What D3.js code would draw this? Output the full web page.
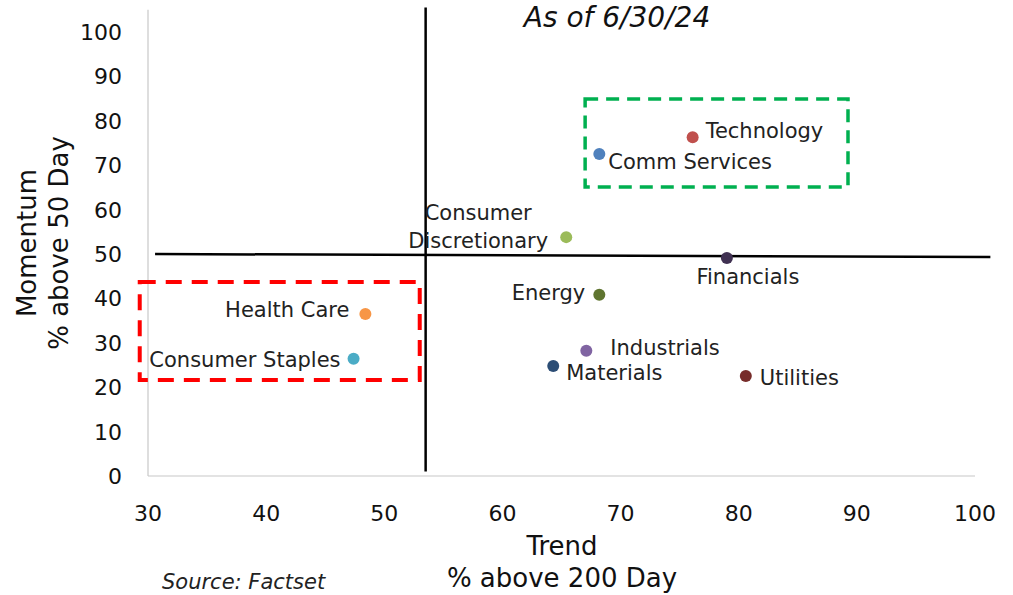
<!DOCTYPE html>
<html>
<head>
<meta charset="utf-8">
<script src="https://cdn.jsdelivr.net/npm/d3@7"></script>
<style>
  body { margin: 0; background: #fff; }
  svg { font-family: "DejaVu Sans", sans-serif; }
</style>
</head>
<body>
<div id="chart"></div>
<script>
// sector data
const sectors = ["Technology", "Comm Services", "Consumer Discretionary", "Financials", "Energy",
                 "Industrials", "Materials", "Utilities", "Health Care", "Consumer Staples"];
const trend = [76.1, 68.2, 65.4, 79.0, 68.2, 67.1, 64.3, 80.6, 48.4, 47.4];      // % above 200 day
const momentum = [76.3, 72.5, 53.8, 49.1, 40.8, 28.2, 24.8, 22.5, 36.5, 26.4];  // % above 50 day
const colors = ["#c0504d", "#4f81bd", "#9bbb59", "#403152", "#5f7530",
                "#8064a2", "#2c4d75", "#772c2a", "#f79646", "#4bacc6"];

const xTicks = [30, 40, 50, 60, 70, 80, 90, 100];
const yTicks = [0, 10, 20, 30, 40, 50, 60, 70, 80, 90, 100];

// quadrant divider lines (data units)
const vLine = { x: 53.5, y0: 105.5, y1: 1 };
const hLine = { x0: 30.6, y0: 50.0, x1: 101.3, y1: 49.3 };

// highlight boxes (data units)
const leaders = { x0: 67.0, x1: 89.25, y0: 65.1, y1: 84.9 };
const laggards = { x0: 29.3, x1: 53.0, y0: 21.6, y1: 43.7 };

const width = 1013, height = 595;
const svg = d3.select("#chart").append("svg")
    .attr("width", width)
    .attr("height", height);

const x = d3.scaleLinear().domain([30, 100]).range([148, 975]);
const y = d3.scaleLinear().domain([0, 100]).range([476, 32]);

// axis frame (grey)
svg.append("line")
    .attr("x1", x(30)).attr("x2", x(30))
    .attr("y1", y(0)).attr("y2", y(105))
    .attr("stroke", "#c8c8c8").attr("stroke-width", 1.2);
svg.append("line")
    .attr("x1", x(30)).attr("x2", x(100))
    .attr("y1", y(0)).attr("y2", y(0))
    .attr("stroke", "#c8c8c8").attr("stroke-width", 1.2);

// tick labels
svg.append("g").selectAll("text")
    .data(xTicks)
    .join("text")
    .attr("x", d => x(d))
    .attr("y", 521)
    .attr("text-anchor", "middle")
    .attr("font-size", 22)
    .attr("fill", "#111")
    .text(d => d);

svg.append("g").selectAll("text")
    .data(yTicks)
    .join("text")
    .attr("x", 122)
    .attr("y", d => y(d) + 8)
    .attr("text-anchor", "end")
    .attr("font-size", 22)
    .attr("fill", "#111")
    .text(d => d);

// axis titles
svg.append("text")
    .attr("x", 562).attr("y", 555)
    .attr("text-anchor", "middle")
    .attr("font-size", 26)
    .attr("fill", "#111")
    .text("Trend");
svg.append("text")
    .attr("x", 562).attr("y", 587)
    .attr("text-anchor", "middle")
    .attr("font-size", 26)
    .attr("fill", "#111")
    .text("% above 200 Day");

svg.append("text")
    .attr("transform", "translate(36,243) rotate(-90)")
    .attr("text-anchor", "middle")
    .attr("font-size", 26)
    .attr("fill", "#111")
    .text("Momentum");
svg.append("text")
    .attr("transform", "translate(68,243) rotate(-90)")
    .attr("text-anchor", "middle")
    .attr("font-size", 26)
    .attr("fill", "#111")
    .text("% above 50 Day");

svg.append("text")
    .attr("x", 162).attr("y", 589)
    .attr("font-size", 21)
    .attr("font-style", "italic")
    .attr("fill", "#222")
    .text("Source: Factset");

svg.append("text")
    .attr("x", 617).attr("y", 27)
    .attr("text-anchor", "middle")
    .attr("font-size", 28)
    .attr("font-style", "italic")
    .attr("fill", "#111")
    .text("As of 6/30/24");

// quadrant lines
svg.append("line")
    .attr("x1", x(vLine.x)).attr("x2", x(vLine.x))
    .attr("y1", y(vLine.y0)).attr("y2", y(vLine.y1))
    .attr("stroke", "#000").attr("stroke-width", 2.5);
svg.append("line")
    .attr("x1", x(hLine.x0)).attr("x2", x(hLine.x1))
    .attr("y1", y(hLine.y0)).attr("y2", y(hLine.y1))
    .attr("stroke", "#000").attr("stroke-width", 2.5);

// dashed boxes
svg.append("rect")
    .attr("x", x(leaders.x0)).attr("y", y(leaders.y1))
    .attr("width", x(leaders.x1) - x(leaders.x0))
    .attr("height", y(leaders.y0) - y(leaders.y1))
    .attr("fill", "none")
    .attr("stroke", "#00b050").attr("stroke-width", 3.5)
    .attr("stroke-dasharray", "13,8");
svg.append("rect")
    .attr("x", x(laggards.x0)).attr("y", y(laggards.y1))
    .attr("width", x(laggards.x1) - x(laggards.x0))
    .attr("height", y(laggards.y0) - y(laggards.y1))
    .attr("fill", "none")
    .attr("stroke", "#ff0000").attr("stroke-width", 4)
    .attr("stroke-dasharray", "16,10");

// points
const points = sectors.map((s, i) => ({ name: s, x: trend[i], y: momentum[i], color: colors[i] }));

svg.append("g").selectAll("circle")
    .data(points)
    .join("circle")
    .attr("cx", d => x(d.x))
    .attr("cy", d => y(d.y))
    .attr("r", 6)
    .attr("fill", d => d.color);

// label placement relative to each point
const labelPos = {
    "Technology": { dx: 13, dy: -6, anchor: "start" },
    "Comm Services": { dx: 9, dy: 8, anchor: "start" },
    "Consumer Discretionary": { dx: -88, dy: -24, anchor: "middle", lines: ["Consumer", "Discretionary"] },
    "Financials": { dx: 21, dy: 19, anchor: "middle" },
    "Energy": { dx: -14, dy: -2, anchor: "end" },
    "Industrials": { dx: 24, dy: -3, anchor: "start" },
    "Materials": { dx: 13, dy: 7, anchor: "start" },
    "Utilities": { dx: 14, dy: 2, anchor: "start" },
    "Health Care": { dx: -16, dy: -4, anchor: "end" },
    "Consumer Staples": { dx: -13, dy: 1, anchor: "end" }
};

const labels = svg.append("g").selectAll("text")
    .data(points)
    .join("text")
    .attr("x", d => x(d.x) + labelPos[d.name].dx)
    .attr("y", d => y(d.y) + labelPos[d.name].dy + 7)
    .attr("text-anchor", d => labelPos[d.name].anchor)
    .attr("font-size", 21)
    .attr("fill", "#222");

labels.each(function(d) {
    const p = labelPos[d.name];
    const t = d3.select(this);
    if (p.lines) {
        p.lines.forEach((l, k) => {
            t.append("tspan")
                .attr("x", x(d.x) + p.dx)
                .attr("dy", k === 0 ? 0 : 28)
                .text(l);
        });
    } else {
        t.text(d.name);
    }
});
</script>
</body>
</html>
